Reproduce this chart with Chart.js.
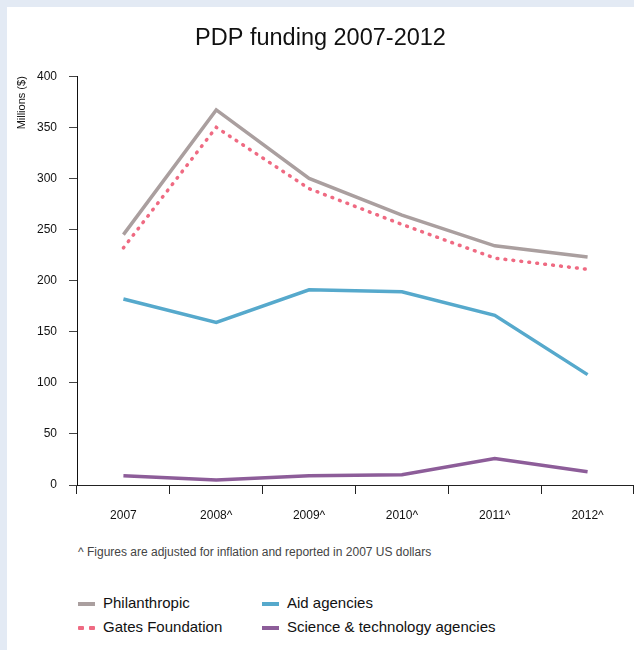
<!DOCTYPE html>
<html>
<head>
<meta charset="utf-8">
<script src="https://cdn.jsdelivr.net/npm/chart.js@4.4.1/dist/chart.umd.min.js"></script>
<style>
  html, body { margin: 0; padding: 0; }
  body { width: 634px; height: 650px; background: #e3eaf4; overflow: hidden; font-family: "Liberation Sans", Arial, sans-serif; }
  #panel { position: absolute; left: 7px; top: 7px; width: 627px; height: 643px; background: #fff; }
  #wrap { position: absolute; left: 0; top: 0; width: 627px; height: 528px; }
  #note { position: absolute; left: 71px; top: 538px; font-size: 12px; color: #444; }
  #legend { position: absolute; left: 71px; top: 587px; width: 500px; }
  .item { position: absolute; font-size: 15px; color: #111; white-space: nowrap; }
  .mk { position: absolute; top: 8px; width: 17px; height: 4px; }
  .mk span { position: absolute; top: 0; height: 4px; width: 6px; border-radius: 1px; }
  .lab { position: absolute; left: 25px; top: 0; }
</style>
</head>
<body>
<div id="panel">
  <div id="wrap"><canvas id="chart"></canvas></div>
  <div id="note">^ Figures are adjusted for inflation and reported in 2007 US dollars</div>
  <div id="legend"></div>
</div>
<script>
var years = ['2007', '2008^', '2009^', '2010^', '2011^', '2012^'];
var seriesNames = ['Philanthropic', 'Gates Foundation', 'Aid agencies', 'Science & technology agencies'];
var philanthropic = [245, 367, 300, 264, 234, 223];
var gates = [232, 350, 290, 255, 222, 211];
var aid = [182, 159, 191, 189, 166, 108];
var science = [9, 5, 9, 10, 26, 13];
var yTicks = [0, 50, 100, 150, 200, 250, 300, 350, 400];

var colors = ['#aa9f9f', '#ef6a82', '#56a9cc', '#8d5d99'];

var ctx = document.getElementById('chart');
var chart = new Chart(ctx, {
  type: 'line',
  data: {
    labels: years,
    datasets: [
      { label: seriesNames[0], data: philanthropic, borderColor: colors[0], borderWidth: 3.5 },
      { label: seriesNames[1], data: gates, borderColor: colors[1], borderWidth: 3.5, borderDash: [0.8, 7.2], borderCapStyle: 'round' },
      { label: seriesNames[2], data: aid, borderColor: colors[2], borderWidth: 3.5 },
      { label: seriesNames[3], data: science, borderColor: colors[3], borderWidth: 3.5 }
    ]
  },
  options: {
    responsive: true,
    maintainAspectRatio: false,
    animation: false,
    layout: { padding: { left: 0, right: 0, top: 0, bottom: 0 } },
    elements: { point: { radius: 0 }, line: { tension: 0 } },
    plugins: {
      legend: { display: false },
      tooltip: { enabled: false },
      title: {
        display: true,
        text: 'PDP funding 2007-2012',
        color: '#111',
        font: { size: 23.5, family: '"Liberation Sans", Arial, sans-serif', weight: 'normal' },
        padding: { top: 17, bottom: 24 }
      }
    },
    scales: {
      x: {
        offset: true,
        grid: { offset: true, drawOnChartArea: false, drawTicks: true, tickLength: 9, color: '#222' },
        border: { display: true, color: '#222', width: 1 },
        ticks: { color: '#111', padding: 14, maxRotation: 0, font: { size: 12, family: '"Liberation Sans", Arial, sans-serif' } },
        afterFit: function(scale) { scale.height = 50; }
      },
      y: {
        min: 0,
        max: 400,
        afterBuildTicks: function(scale) { scale.ticks = yTicks.map(function(v) { return { value: v }; }); },
        grid: { drawOnChartArea: false, drawTicks: true, tickLength: 8, color: '#444' },
        border: { display: true, color: '#111', width: 1 },
        ticks: { color: '#111', padding: 12, font: { size: 12, family: '"Liberation Sans", Arial, sans-serif' } },
        title: {
          display: true,
          text: 'Millions ($)',
          align: 'end',
          color: '#111',
          padding: { top: 8, bottom: 0 },
          font: { size: 11, family: '"Liberation Sans", Arial, sans-serif' }
        },
        afterFit: function(scale) { scale.width = 70; }
      }
    }
  }
});

// legend built from the chart's datasets
var legend = document.getElementById('legend');
var pos = [[0, 0], [0, 24], [184, 0], [184, 24]];
chart.data.datasets.forEach(function(ds, i) {
  var item = document.createElement('div');
  item.className = 'item';
  item.style.left = pos[i][0] + 'px';
  item.style.top = pos[i][1] + 'px';
  var mk = document.createElement('div');
  mk.className = 'mk';
  if (ds.borderDash) {
    mk.innerHTML = '<span style="left:0;background:' + ds.borderColor + '"></span><span style="left:11px;background:' + ds.borderColor + '"></span>';
  } else {
    mk.style.background = ds.borderColor;
  }
  var lab = document.createElement('div');
  lab.className = 'lab';
  lab.textContent = ds.label;
  item.appendChild(mk);
  item.appendChild(lab);
  legend.appendChild(item);
});
</script>
</body>
</html>
